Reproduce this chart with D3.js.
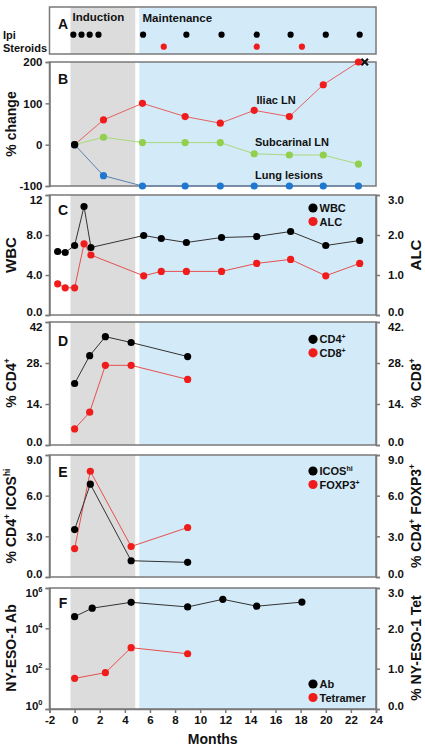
<!DOCTYPE html>
<html><head><meta charset="utf-8">
<script src="https://cdn.jsdelivr.net/npm/d3@7/dist/d3.min.js"></script>
<style>
body{margin:0;background:#fff;}
svg text{font-family:"Liberation Sans",Arial,sans-serif;font-weight:bold;fill:#111;}
</style></head><body>
<svg id="c" width="425" height="750"></svg>
<script>
// ---------- DATA ----------
const monthTicks = [-2,0,2,4,6,8,10,12,14,16,18,20,22,24];
const inductionRange = [-0.33, 4.83];
const maintenanceRange = [5.15, 24];

// Panel A
const ipiMonths = [-0.1, 0.55, 1.2, 1.9, 5.45, 8.9, 11.7, 14.5, 17.2, 20.0, 22.7];
const steroidMonths = [7.1, 14.5, 18.1];

// Panel B
const bMonths = [0, 2.3, 5.4, 8.8, 11.6, 14.3, 17.1, 19.8, 22.6];
const iliacLN = [0, 60, 100, 68, 52, 83, 68, 145, 200];
const subcarinalLN = [0, 18, 5, 5, 5, -22, -25, -25, -47];
const lungLesions = [0, -75, -100, -100, -100, -100, -100, -100, -100];
const bTicks = [-100, 0, 100, 200];
const bTickLabels = ["-100", "0", "100", "200"];
const deathMark = {month: 23.1, value: 200};

// Panel C
const cMonths = [-1.35, -0.75, 0, 0.75, 1.3, 5.5, 6.9, 8.9, 11.7, 14.5, 17.2, 20.0, 22.7];
const wbc = [6.35, 6.25, 6.95, 10.85, 6.75, 7.95, 7.65, 7.25, 7.75, 7.85, 8.35, 6.95, 7.45];
const alc = [0.78, 0.68, 0.68, 1.78, 1.5, 0.98, 1.09, 1.09, 1.09, 1.29, 1.39, 0.98, 1.29];
const cLeftTicks = [0, 4, 8, 12];
const cLeftLabels = ["0.0", "4.0", "8.0", "12"];
const cRightTicks = [0, 1, 2, 3];
const cRightLabels = ["0.0", "1.0", "2.0", "3.0"];

// Panel D
const dMonths = [0, 1.2, 2.45, 4.5, 9.0];
const cd4 = [21, 30.5, 37, 35, 30.2];
const cd8 = [5.5, 11.2, 27.2, 27.2, 22.4];
const dTicks = [0, 14, 28, 42];
const dLeftLabels = ["0.0", "14.", "28.", "42"];
const dRightLabels = ["0.0", "14.", "28.", "42."];

// Panel E
const eMonths = [0, 1.25, 4.5, 9.0];
const icosHi = [3.5, 6.85, 1.2, 1.08];
const foxp3 = [2.1, 7.8, 2.25, 3.65];
const eTicks = [0, 3, 6, 9];
const eLabels = ["0.0", "3.0", "6.0", "9.0"];

// Panel F
const abMonths = [0, 1.4, 4.5, 9.0, 11.8, 14.5, 18.1];
const abTiter = [3.8e4, 1.0e5, 1.95e5, 1.15e5, 2.75e5, 1.25e5, 2.0e5];
const tetMonths = [0, 2.45, 4.5, 9.0];
const tetramer = [0.76, 0.9, 1.52, 1.37];
const fLeftTicks = [1, 1e2, 1e4, 1e6];
const fLeftExp = ["0", "2", "4", "6"];
const fRightTicks = [0, 1, 2, 3];
const fRightLabels = ["0.0", "1.0", "2.0", "3.0"];

// ---------- DRAW ----------
const svg = d3.select("#c");
const X0 = 49.5, X1 = 376;
const x = d3.scaleLinear().domain([-2, 24]).range([X0, X1]);

const RED = "#f01c1c", BLACK = "#000", GREEN = "#92cf4f", BLUE = "#1f78d0";
const GRAY_BG = "#dcdcdc", BLUE_BG = "#d3eaf8";
const FRAME = "#7a7a7a";

function panelBg(top, bottom){
  svg.append("rect").attr("x", x(inductionRange[0])).attr("y", top)
    .attr("width", x(inductionRange[1]) - x(inductionRange[0])).attr("height", bottom - top)
    .attr("fill", GRAY_BG);
  svg.append("rect").attr("x", x(maintenanceRange[0])).attr("y", top)
    .attr("width", x(maintenanceRange[1]) - x(maintenanceRange[0])).attr("height", bottom - top)
    .attr("fill", BLUE_BG);
}
function frame(top, bottom){
  svg.append("rect").attr("x", X0).attr("y", top).attr("width", X1 - X0).attr("height", bottom - top)
    .attr("fill", "none").attr("stroke", FRAME).attr("stroke-width", 1.5);
}
function styleAxis(g){
  g.selectAll(".domain").attr("stroke", FRAME).attr("stroke-width", 1.5);
  g.selectAll(".tick line").attr("stroke", FRAME).attr("stroke-width", 1.5);
  g.selectAll(".tick text").attr("font-size", "11.5px").attr("fill", "#111")
    .attr("font-family", "Liberation Sans, Arial, sans-serif").attr("font-weight", "bold");
}
// nudge the extreme tick labels inward (first = bottom, last = top), as in the reference
function nudge(g){
  const texts = g.selectAll(".tick text").nodes();
  if (texts.length){
    d3.select(texts[0]).attr("transform", "translate(0,-3)");
    d3.select(texts[texts.length-1]).attr("transform", "translate(0,5)");
  }
}
function leftAxis(y, ticks, labels, doNudge=true){
  const g = svg.append("g").attr("transform", `translate(${X0},0)`)
    .call(d3.axisLeft(y).tickValues(ticks).tickFormat((d,i)=>labels[i]).tickSize(4).tickPadding(3));
  styleAxis(g); if (doNudge) nudge(g); return g;
}
function rightAxis(y, ticks, labels){
  const g = svg.append("g").attr("transform", `translate(${X1},0)`)
    .call(d3.axisRight(y).tickValues(ticks).tickFormat((d,i)=>labels[i]).tickSize(4).tickPadding(8));
  styleAxis(g); nudge(g); return g;
}
function series(xs, ys, y, lineColor, dotColor, r=3.6){
  const pts = xs.map((m,i)=>[m, ys[i]]);
  svg.append("path").datum(pts)
    .attr("d", d3.line().x(d=>x(d[0])).y(d=>y(d[1])))
    .attr("fill", "none").attr("stroke", lineColor).attr("stroke-width", 1);
  svg.append("g").selectAll("circle").data(pts).join("circle")
    .attr("cx", d=>x(d[0])).attr("cy", d=>y(d[1])).attr("r", r).attr("fill", dotColor);
}
function letter(t, yy){
  svg.append("text").attr("x", 63).attr("y", yy).attr("text-anchor", "middle")
    .attr("font-size", "14px").text(t);
}
function vTitle(xPos, yCenter, parts, size=14){
  const t = svg.append("text").attr("transform", `translate(${xPos},${yCenter}) rotate(-90)`)
    .attr("text-anchor", "middle").attr("font-size", size + "px");
  parts.forEach(p=>{
    if (p.sup) t.append("tspan").attr("font-size", (size*0.6) + "px").attr("dy", -size*0.45).text(p.t);
    else t.append("tspan").attr("dy", p.after ? size*0.45 : 0).text(p.t);
  });
}
function legend(yy, items){
  items.forEach((it, i)=>{
    const cy = yy + i*13.5;
    svg.append("circle").attr("cx", 313).attr("cy", cy).attr("r", 4.6).attr("fill", it.color);
    const t = svg.append("text").attr("x", 319.5).attr("y", cy + 4).attr("font-size", "11px");
    it.parts.forEach(p=>{
      if (p.sup) t.append("tspan").attr("font-size", "7px").attr("dy", -4).text(p.t);
      else t.append("tspan").text(p.t);
    });
  });
}

// ----- Panel A -----
const aTop = 7, aBot = 54;
panelBg(aTop, aBot);
frame(aTop, aBot);
svg.append("text").attr("x", 72.5).attr("y", 21).attr("font-size", "11.5px").text("Induction");
svg.append("text").attr("x", 142.5).attr("y", 21.5).attr("font-size", "11.5px").text("Maintenance");
svg.append("text").attr("x", 3).attr("y", 38.5).attr("font-size", "11px").text("Ipi");
svg.append("text").attr("x", 3).attr("y", 51.5).attr("font-size", "11px").text("Steroids");
letter("A", 29);
svg.append("g").selectAll("circle").data(ipiMonths).join("circle")
  .attr("cx", d=>x(d)).attr("cy", 34.7).attr("r", 3.1).attr("fill", BLACK);
svg.append("g").selectAll("circle").data(steroidMonths).join("circle")
  .attr("cx", d=>x(d)).attr("cy", 46.7).attr("r", 3.1).attr("fill", RED);

// ----- Panel B -----
const yB = d3.scaleLinear().domain([-100, 200]).range([186, 62]);
panelBg(62, 186);
frame(62, 186);
leftAxis(yB, bTicks, bTickLabels, false);
letter("B", 84);
series(bMonths, iliacLN, yB, "#e66060", RED);
series(bMonths, subcarinalLN, yB, "#a9d97a", GREEN);
series(bMonths, lungLesions, yB, "#5a80b0", BLUE);
svg.append("circle").attr("cx", x(bMonths[0])).attr("cy", yB(0)).attr("r", 3.6).attr("fill", BLACK);
{
  const cx = x(deathMark.month), cy = yB(deathMark.value), s = 3.3;
  svg.append("path").attr("d", `M${cx-s},${cy-s}L${cx+s},${cy+s}M${cx-s},${cy+s}L${cx+s},${cy-s}`)
    .attr("stroke", "#111").attr("stroke-width", 2.2);
}
svg.append("text").attr("x", 256.5).attr("y", 104).attr("font-size", "11px").text("Iliac LN");
svg.append("text").attr("x", 255).attr("y", 146).attr("font-size", "11px").text("Subcarinal LN");
svg.append("text").attr("x", 255).attr("y", 179).attr("font-size", "11px").text("Lung lesions");
vTitle(16, 124, [{t:"% change"}]);

// ----- Panel C -----
const yC = d3.scaleLinear().domain([0, 12]).range([315, 195]);
const yC2 = d3.scaleLinear().domain([0, 3]).range([315, 195]);
panelBg(195, 315);
frame(195, 315);
leftAxis(yC, cLeftTicks, cLeftLabels);
rightAxis(yC2, cRightTicks, cRightLabels);
letter("C", 215);
series(cMonths, alc, yC2, "#e65050", RED);
series(cMonths, wbc, yC, "#333", BLACK);
legend(208, [{color:BLACK, parts:[{t:"WBC"}]}, {color:RED, parts:[{t:"ALC"}]}]);
vTitle(16, 255, [{t:"WBC"}], 15);
vTitle(421, 255, [{t:"ALC"}], 15);

// ----- Panel D -----
const yD = d3.scaleLinear().domain([0, 42]).range([445, 322]);
panelBg(322, 445);
frame(322, 445);
leftAxis(yD, dTicks, dLeftLabels);
rightAxis(yD, dTicks, dRightLabels);
letter("D", 346);
series(dMonths, cd8, yD, "#e65050", RED);
series(dMonths, cd4, yD, "#333", BLACK);
legend(339.3, [{color:BLACK, parts:[{t:"CD4"},{t:"+",sup:true}]}, {color:RED, parts:[{t:"CD8"},{t:"+",sup:true}]}]);
vTitle(16, 383, [{t:"% CD4"},{t:"+",sup:true}]);
vTitle(421, 383, [{t:"% CD8"},{t:"+",sup:true}]);

// ----- Panel E -----
const yE = d3.scaleLinear().domain([0, 9]).range([577, 455]);
panelBg(455, 577);
frame(455, 577);
leftAxis(yE, eTicks, eLabels);
rightAxis(yE, eTicks, eLabels);
letter("E", 477);
series(eMonths, foxp3, yE, "#e65050", RED);
series(eMonths, icosHi, yE, "#333", BLACK);
legend(471, [{color:BLACK, parts:[{t:"ICOS"},{t:"hi",sup:true}]}, {color:RED, parts:[{t:"FOXP3"},{t:"+",sup:true}]}]);
vTitle(16, 516, [{t:"% CD4"},{t:"+",sup:true},{t:" ICOS",after:true},{t:"hi",sup:true}]);
vTitle(421, 516, [{t:"% CD4"},{t:"+",sup:true},{t:" FOXP3",after:true},{t:"+",sup:true}]);

// ----- Panel F -----
const yF = d3.scaleLog().domain([1, 1e6]).range([709, 588]);
const yF2 = d3.scaleLinear().domain([0, 3]).range([709, 588]);
panelBg(588, 709);
frame(588, 709);
{
  const g = leftAxis(yF, fLeftTicks, fLeftTicks.map(()=>""));
  g.selectAll(".tick text").each(function(d,i){
    const t = d3.select(this);
    t.text(null);
    t.append("tspan").text("10");
    t.append("tspan").attr("font-size", "7.5px").attr("dy", -5).text(fLeftExp[i]);
  });
}
rightAxis(yF2, fRightTicks, fRightLabels);
letter("F", 608);
series(tetMonths, tetramer, yF2, "#e65050", RED);
series(abMonths, abTiter, yF, "#333", BLACK);
legend(684, [{color:BLACK, parts:[{t:"Ab"}]}, {color:RED, parts:[{t:"Tetramer"}]}]);
vTitle(16, 648, [{t:"NY-ESO-1 Ab"}]);
vTitle(421, 648, [{t:"% NY-ESO-1 Tet"}]);

// ----- X axis -----
{
  const g = svg.append("g").attr("transform", "translate(0,709)")
    .call(d3.axisBottom(x).tickValues(monthTicks).tickFormat(d=>String(d)).tickSize(4).tickPadding(3));
  styleAxis(g);
  g.selectAll(".tick text").attr("font-size", "11.5px");
}
svg.append("text").attr("x", (X0 + X1)/2).attr("y", 744).attr("text-anchor", "middle")
  .attr("font-size", "14px").text("Months");
</script>
</body></html>
